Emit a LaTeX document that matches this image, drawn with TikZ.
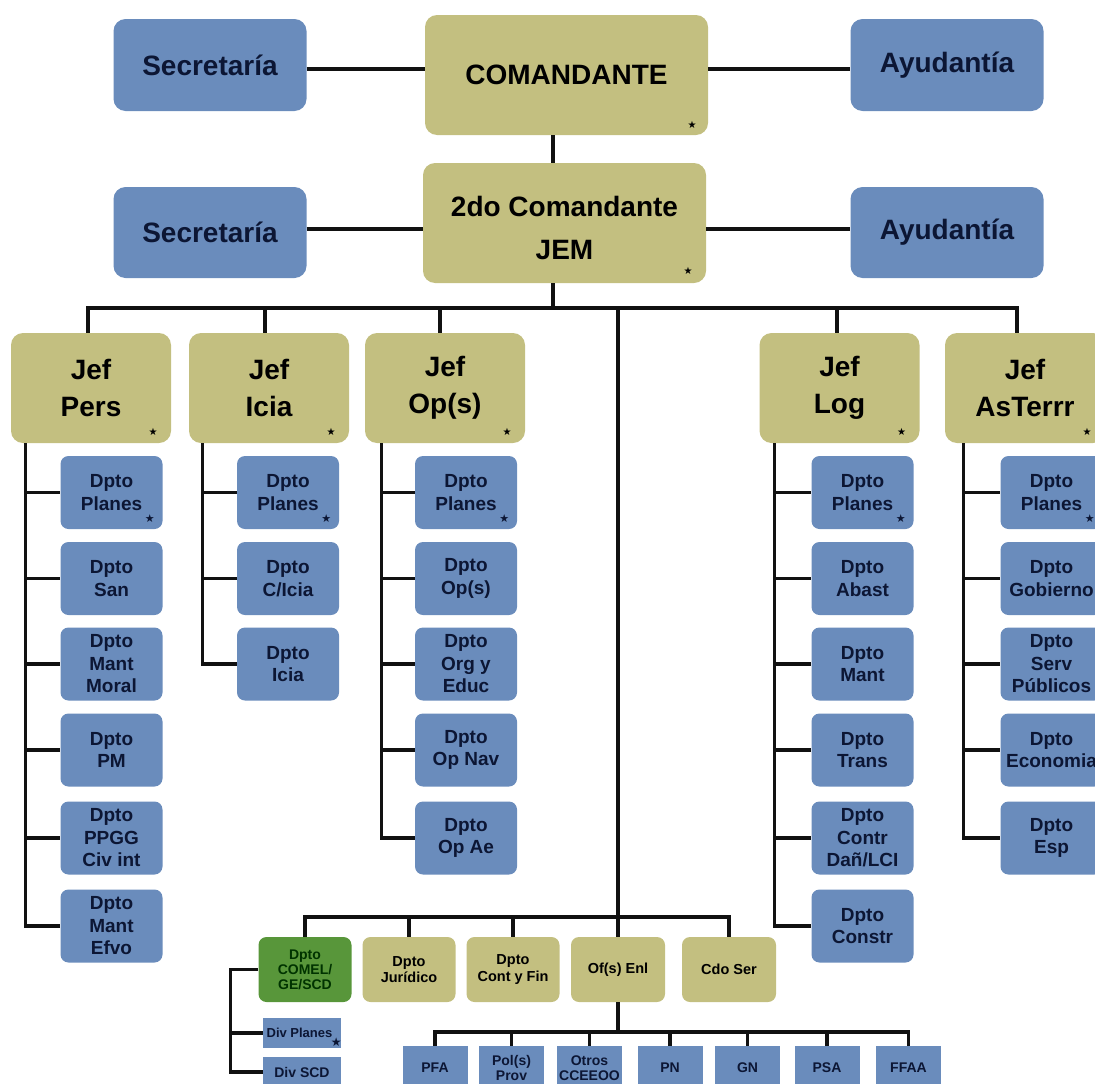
\documentclass[tikz,border=0pt]{standalone}
\usepackage{fontspec}
\setmainfont{Liberation Sans}
\newfontfamily\symf{DejaVu Sans}
\definecolor{khakiC}{RGB}{195,191,128}
\definecolor{blueC}{RGB}{106,140,188}
\definecolor{greenC}{RGB}{88,150,58}
\definecolor{navyC}{RGB}{12,22,52}
\definecolor{lineC}{RGB}{17,17,17}
\begin{document}
\begin{tikzpicture}[x=1pt,y=-1pt,
  box/.style={rounded corners=#1, inner sep=0pt, align=center},
  box/.default=10pt,
  topk/.style={box=12pt, fill=khakiC, text=black, minimum width=283pt, minimum height=120pt, font=\fontsize{28}{43}\selectfont\bfseries},
  topb/.style={box=12pt, fill=blueC, text=navyC, minimum width=193pt, minimum height=92pt, font=\fontsize{28}{34}\selectfont\bfseries},
  jef/.style={box=12pt, fill=khakiC, text=black, minimum width=160pt, minimum height=110pt, font=\fontsize{28}{37}\selectfont\bfseries},
  dpto/.style={box=8pt, fill=blueC, text=navyC, minimum width=102pt, minimum height=73pt, font=\fontsize{19}{22.5}\selectfont\bfseries},
  mid/.style={box=8pt, fill=khakiC, text=black, minimum width=93pt, minimum height=65pt, font=\fontsize{14.5}{16.5}\selectfont\bfseries},
  midg/.style={mid, fill=greenC, text={black!80!green}, font=\fontsize{14}{15}\selectfont\bfseries},
  small/.style={sharp corners, inner sep=0pt, align=center, fill=blueC, text=navyC, minimum width=65pt, minimum height=44pt, font=\fontsize{14}{15.5}\selectfont\bfseries},
  divb/.style={small, minimum width=78pt, minimum height=30pt},
  conn/.style={draw=lineC, line width=3.1pt},
  connT/.style={draw=lineC, line width=3.3pt},
  starK/.style={inner sep=0pt, text=black, font=\symf\fontsize{10}{10}\selectfont},
  starB/.style={inner sep=0pt, text=navyC, font=\symf\fontsize{11}{11}\selectfont},
]
\path[use as bounding box] (0,0) rectangle (1095,1084);
\clip (0,0) rectangle (1095,1084);

% top level
\node[topb] (sec1) at (210,65) {Secretaría};
\node[topk] (cmd) at (566.5,75) {COMANDANTE};
\node[topb] (ayu1) at (947,65) {Ayudantía};
\node[topb, minimum height=91pt] (sec2) at (210,232.5) {Secretaría};
\node[topk] (jem) at (564.5,223) {\rule{0pt}{31pt}2do Comandante\\JEM};
\node[topb, minimum height=91pt] (ayu2) at (947,232.5) {Ayudantía};

% jefaturas
\node[jef] (pers) at (91,388) {Jef\\Pers};
\node[jef] (icia) at (269,388) {Jef\\Icia};
\node[jef] (ops) at (445,388) {Jef\\Op(s)};
\node[jef] (log) at (839.5,388) {Jef\\Log};
\node[jef] (ast) at (1025,388) {Jef\\AsTerrr};

% Pers
\node[dpto] (p1) at (111.5,492.5) {Dpto\\Planes};
\node[dpto] (p2) at (111.5,578.5) {Dpto\\San};
\node[dpto] (p3) at (111.5,664) {Dpto\\Mant\\Moral};
\node[dpto] (p4) at (111.5,750) {Dpto\\PM};
\node[dpto] (p5) at (111.5,838) {Dpto\\PPGG\\Civ int};
\node[dpto] (p6) at (111.5,926) {Dpto\\Mant\\Efvo};
% Icia
\node[dpto] (i1) at (288,492.5) {Dpto\\Planes};
\node[dpto] (i2) at (288,578.5) {Dpto\\C/Icia};
\node[dpto] (i3) at (288,664) {Dpto\\Icia};
% Ops
\node[dpto] (o1) at (466,492.5) {Dpto\\Planes};
\node[dpto] (o2) at (466,578.5) {Dpto\\Op(s)};
\node[dpto] (o3) at (466,664) {Dpto\\Org y\\Educ};
\node[dpto] (o4) at (466,750) {Dpto\\Op Nav};
\node[dpto] (o5) at (466,838) {Dpto\\Op Ae};
% Log
\node[dpto] (l1) at (862.5,492.5) {Dpto\\Planes};
\node[dpto] (l2) at (862.5,578.5) {Dpto\\Abast};
\node[dpto] (l3) at (862.5,664) {Dpto\\Mant};
\node[dpto] (l4) at (862.5,750) {Dpto\\Trans};
\node[dpto] (l5) at (862.5,838) {Dpto\\Contr\\Dañ/LCI};
\node[dpto] (l6) at (862.5,926) {Dpto\\Constr};
% AsTerrr
\node[dpto] (a1) at (1051.5,492.5) {Dpto\\Planes};
\node[dpto] (a2) at (1051.5,578.5) {Dpto\\Gobierno};
\node[dpto] (a3) at (1051.5,664) {Dpto\\Serv\\Públicos};
\node[dpto] (a4) at (1051.5,750) {Dpto\\Economia};
\node[dpto] (a5) at (1051.5,838) {Dpto\\Esp};

% middle bottom row
\node[midg] (comel) at (305,969.5) {Dpto\\COMEL/\\GE/SCD};
\node[mid] (jur) at (409,969.5) {Dpto\\Jurídico};
\node[mid] (cyf) at (513,969.5) {Dpto\\Cont y Fin};
\node[mid, minimum width=94pt] (ofs) at (618,969.5) {Of(s) Enl};
\node[mid, minimum width=94pt] (cdo) at (729,969.5) {Cdo Ser};

\node[divb, font=\fontsize{13}{15}\selectfont\bfseries] (divp) at (302,1033) {Div Planes\hspace*{5pt}};
\node[divb] (divs) at (302,1072) {Div SCD};

\node[small] (pfa) at (435,1068) {PFA};
\node[small] (pol) at (511.5,1068) {Pol(s)\\Prov};
\node[small] (otr) at (589.5,1068) {Otros\\CCEEOO};
\node[small] (pn) at (670,1068) {PN};
\node[small] (gn) at (747.5,1068) {GN};
\node[small] (psa) at (827,1068) {PSA};
\node[small] (ffaa) at (908.5,1068) {FFAA};

% stars
\node[starK] (s1) at ([xshift=-16pt,yshift=10pt]cmd.south east) {★};
\node[starK] (s2) at ([xshift=-18pt,yshift=12pt]jem.south east) {★};
\foreach \n in {pers,icia,ops,log,ast}
  \node[starK] (st\n) at ([xshift=-18pt,yshift=11pt]\n.south east) {★};
\foreach \n in {p1,i1,o1,l1,a1}
  \node[starB] (st\n) at ([xshift=-13pt,yshift=11pt]\n.south east) {★};
\node[starB, font=\symf\fontsize{12}{12}\selectfont] (stdiv) at ([xshift=-5pt,yshift=6pt]divp.south east) {★};

% connectors top
\coordinate (h1) at (0,69);
\coordinate (h2) at (0,229);
\coordinate (v0) at (553,0);
\coordinate (bus) at (0,308);
\draw[connT] (sec1.east |- h1) -- (cmd.west |- h1);
\draw[connT] (cmd.east |- h1) -- (ayu1.west |- h1);
\draw[connT] (sec2.east |- h2) -- (jem.west |- h2);
\draw[connT] (jem.east |- h2) -- (ayu2.west |- h2);
\draw[connT] (cmd.south -| v0) -- (jem.north -| v0);
\draw[connT] (jem.south -| v0) -- (v0 |- bus);

\draw[conn] ([xshift=-3pt]pers.north) -- ([xshift=-3pt]pers.north |- bus) -- ([xshift=-8pt]ast.north |- bus) -- ([xshift=-8pt]ast.north);
\draw[conn] ([xshift=-4pt]icia.north |- bus) -- ([xshift=-4pt]icia.north);
\draw[conn] ([xshift=-5pt]ops.north |- bus) -- ([xshift=-5pt]ops.north);
\draw[conn] ([xshift=-2.5pt]log.north |- bus) -- ([xshift=-2.5pt]log.north);
\draw[conn] (ofs.north |- bus) -- (ofs.north);

% spines
\coordinate (psp) at ([xshift=15pt]pers.south west);
\draw[conn] (psp) |- (p6.west);
\foreach \k in {1,...,5} \draw[conn] (psp |- p\k.west) -- (p\k.west);
\coordinate (isp) at ([xshift=14pt]icia.south west);
\draw[conn] (isp) |- (i3.west);
\foreach \k in {1,2} \draw[conn] (isp |- i\k.west) -- (i\k.west);
\coordinate (osp) at ([xshift=17pt]ops.south west);
\draw[conn] (osp) |- (o5.west);
\foreach \k in {1,...,4} \draw[conn] (osp |- o\k.west) -- (o\k.west);
\coordinate (lsp) at ([xshift=15pt]log.south west);
\draw[conn] (lsp) |- (l6.west);
\foreach \k in {1,...,5} \draw[conn] (lsp |- l\k.west) -- (l\k.west);
\coordinate (asp) at ([xshift=19pt]ast.south west);
\draw[conn] (asp) |- (a5.west);
\foreach \k in {1,...,4} \draw[conn] (asp |- a\k.west) -- (a\k.west);

% middle bus
\coordinate (mbus) at (0,917);
\draw[conn] (comel.north) -- (comel.north |- mbus) -- (cdo.north |- mbus) -- (cdo.north);
\draw[conn] (jur.north |- mbus) -- (jur.north);
\draw[conn] (cyf.north |- mbus) -- (cyf.north);

% COMEL divisions
\coordinate (csp) at ([xshift=-28pt]comel.west);
\draw[conn] (comel.west) -- (csp) |- (divs.west);
\draw[conn] (csp |- divp.west) -- (divp.west);

% enlaces
\coordinate (lbus) at (0,1032);
\draw[conn] (ofs.south) -- (ofs.south |- lbus);
\draw[conn] (pfa.north) -- (pfa.north |- lbus) -- (ffaa.north |- lbus) -- (ffaa.north);
\foreach \n in {pol,otr,pn,gn,psa} \draw[conn] (\n.north |- lbus) -- (\n.north);
\end{tikzpicture}
\end{document}
